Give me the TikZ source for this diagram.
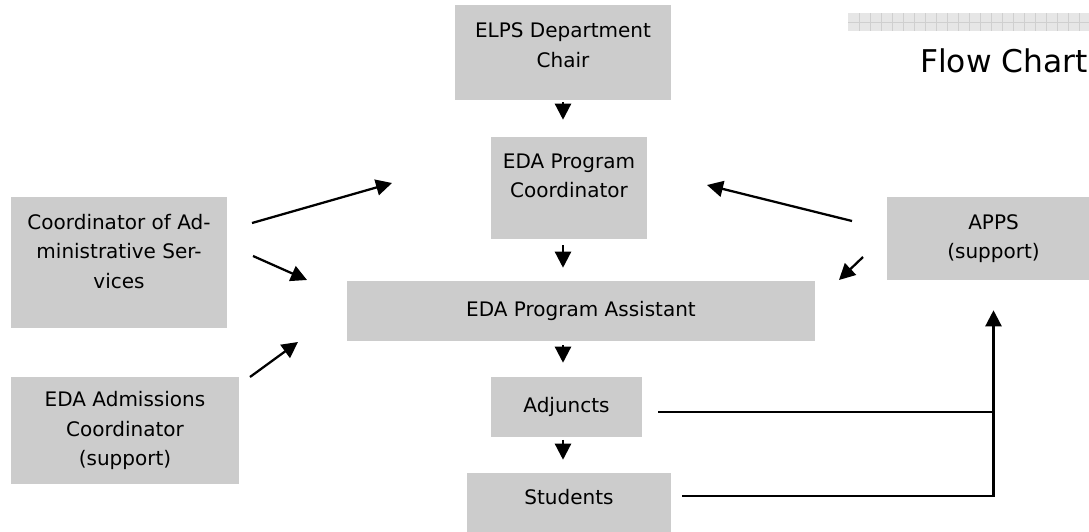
\documentclass[tikz,border=0pt]{standalone}
\usepackage{fontspec}
\setmainfont{DejaVu Sans}
\usetikzlibrary{arrows.meta,calc}
\definecolor{boxgray}{HTML}{CCCCCC}
\definecolor{bargray}{HTML}{E6E6E6}
\definecolor{gridgray}{HTML}{CFCFCF}
\tikzset{
  box/.style={fill=boxgray, draw=none, align=center, inner sep=0pt,
    font=\fontsize{15pt}{22pt}\selectfont},
  title/.style={font=\fontsize{23.5pt}{26pt}\selectfont, inner sep=0pt},
  arr/.style={-{Triangle[length=12pt,width=12pt]}, line width=1.7pt},
  link/.style={line width=1.8pt},
}

\begin{document}
\begin{tikzpicture}[x=0.75pt,y=-0.75pt]
        \useasboundingbox (0,0) rectangle (1089,532);
        % header bar
        \fill[bargray] (848,13) rectangle (1089,31);
        \foreach \x in {859,870,...,1089}
            \draw[gridgray, line width=0.6pt] (\x,13) -- (\x,31);
        \draw[gridgray, line width=0.6pt] (848,22) -- (1089,22);
        \node[title, anchor=base east] (title) at (1088,72) {Flow Chart};
        % middle column
        \node[box, minimum width=162pt, minimum height=71.25pt, text depth=11pt] (chair) at (563,52.5) {ELPS Department\\Chair};
        \node[box, minimum width=117pt, minimum height=76.5pt, text depth=18pt] (coord) at (569,188) {EDA Program\\Coordinator};
        \node[box, minimum width=351pt, minimum height=45pt] (assist) at (581,311) {EDA Program Assistant};
        \node[box, minimum width=113.25pt, minimum height=45pt] (adjuncts) at (566.5,407) {Adjuncts};
        \node[box, minimum width=153pt, minimum height=44.25pt, text depth=8pt] (students) at (569,502.5) {Students};
        % left column
        \node[box, minimum width=162pt, minimum height=98.25pt, text depth=17pt] (coas) at (119,262.5) {Coordinator of Ad-\\ministrative Ser-\\vices};
        \node[box, minimum width=171pt, minimum height=80.25pt] (admit) at (125,430.5) {EDA Admissions\\Coordinator\\(support)};
        % right column
        \node[box, minimum width=159.75pt, minimum height=62.25pt] (apps) at (993.5,238.5) {APPS\\(support)};
        % arrow ends
        \coordinate (coasA) at (252,223);
        \coordinate (coordL) at (392,183);
        \coordinate (coasB) at (253,256);
        \coordinate (assistL) at (307,280);
        \coordinate (admitA) at (250,377);
        \coordinate (assistLL) at (298,342);
        \coordinate (appsA) at (852,221);
        \coordinate (coordR) at (707,185);
        \coordinate (appsB) at (863,257);
        \coordinate (assistR) at (839,280);
        \coordinate (adjout) at (658,412);
        \coordinate (studout) at (682,496);
        % down the middle
        \draw[arr, shorten <=1.5pt, shorten >=12.75pt] (chair.south) -- (chair.south |- coord.north);
        \draw[arr, shorten <=4.5pt, shorten >=9.75pt] (coord.south -| chair.south) -- (assist.north -| chair.south);
        \draw[arr, shorten <=3pt, shorten >=10.5pt] (assist.south -| chair.south) -- (adjuncts.north -| chair.south);
        \draw[arr, shorten <=2pt, shorten >=9.75pt] (adjuncts.south -| chair.south) -- (students.north -| chair.south);
        % side arrows
        \draw[arr] (coasA) -- (coordL);
        \draw[arr] (coasB) -- (assistL);
        \draw[arr] (admitA) -- (assistLL);
        \draw[arr] (appsA) -- (coordR);
        \draw[arr] (appsB) -- (assistR);
        % back to APPS
        \draw[link] (adjout) -- (adjout -| apps.south);
        \draw[arr, shorten >=22.5pt] (studout) -| (apps.south);
\end{tikzpicture}
\end{document}
